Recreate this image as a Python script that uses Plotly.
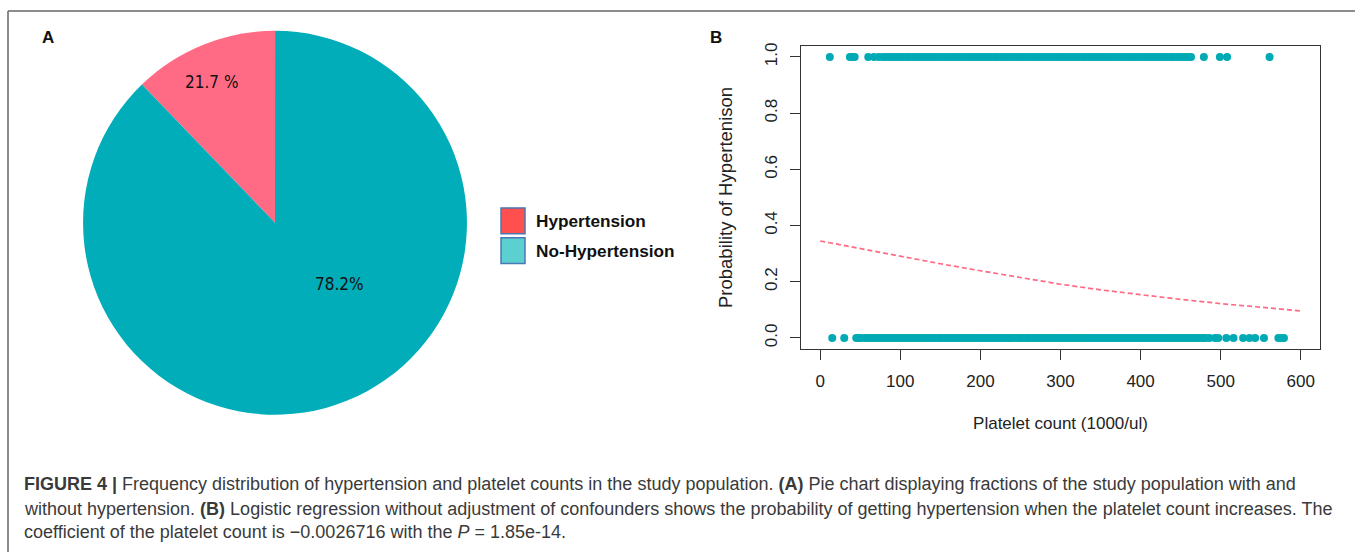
import plotly.graph_objects as go

W, H = 1355, 552

# ---------------- data ----------------
pie_labels = ["Hypertension", "No-Hypertension"]
pie_values = [12.2, 87.8]          # slice sizes as drawn
pie_text = ["21.7 %", "78.2%"]     # labels printed on the slices
pie_colors = ["#FF6B84", "#00ADB9"]
legend_colors = ["#FF4F4F", "#5CCFD0"]

hyp_x = [12, 37, 40, 43, 60, 67, 73, 78,
         82, 86, 89, 93, 97, 100, 104, 108, 111, 115, 119, 122, 126, 130, 133, 137,
         141, 144, 148, 152, 155, 159, 163, 166, 170, 174, 177, 181, 185, 188, 192,
         196, 199, 203, 207, 210, 214, 218, 221, 225, 229, 232, 236, 240, 243, 247,
         251, 254, 258, 262, 265, 269, 273, 276, 280, 284, 287, 291, 295, 298, 302,
         306, 309, 313, 317, 320, 324, 328, 331, 335, 339, 342, 346, 350, 353, 357,
         361, 364, 368, 372, 375, 379, 383, 386, 390, 394, 397, 401, 405, 408, 412,
         416, 419, 423, 427, 430, 434, 438, 441, 445, 449, 452, 456, 460, 463,
         479, 499, 508, 561]
nohyp_x = [15, 30, 45, 48, 51,
           56, 60, 63, 67, 71, 74, 78, 82, 85, 89, 93, 96, 100, 104, 107, 111, 115,
           118, 122, 126, 129, 133, 137, 140, 144, 148, 151, 155, 159, 162, 166, 170,
           173, 177, 181, 184, 188, 192, 195, 199, 203, 206, 210, 214, 217, 221, 225,
           228, 232, 236, 239, 243, 247, 250, 254, 258, 261, 265, 269, 272, 276, 280,
           283, 287, 291, 294, 298, 302, 305, 309, 313, 316, 320, 324, 327, 331, 335,
           338, 342, 346, 349, 353, 357, 360, 364, 368, 371, 375, 379, 382, 386, 390,
           393, 397, 401, 404, 408, 412, 415, 419, 423, 426, 430, 434, 437, 441, 445,
           448, 452, 456, 459, 463, 467, 470, 474, 478, 481, 486,
           493, 497, 507, 516, 528, 536, 543, 554, 572, 575, 579]

fit_x = [0, 50, 100, 150, 200, 250, 300, 350, 400, 450, 500, 550, 600]
fit_p = [0.345, 0.318, 0.290, 0.264, 0.239, 0.214, 0.191, 0.171, 0.153, 0.137, 0.122, 0.108, 0.096]

x_ticks = [0, 100, 200, 300, 400, 500, 600]
y_ticks = [0.0, 0.2, 0.4, 0.6, 0.8, 1.0]
y_tick_text = ["0.0", "0.2", "0.4", "0.6", "0.8", "1.0"]

caption_lines = [
    "<b>FIGURE 4 |</b> Frequency distribution of hypertension and platelet counts in the study population. "
    "<b>(A)</b> Pie chart displaying fractions of the study population with and",
    "without hypertension. <b>(B)</b> Logistic regression without adjustment of confounders shows the "
    "probability of getting hypertension when the platelet count increases. The",
    "coefficient of the platelet count is \u22120.0026716 with the <i>P</i> = 1.85e-14.",
]


def fx(px):
    return px / W


def fy(py):
    return 1 - py / H


teal = "#00AAB5"
AX = "#333333"
FONT = "Liberation Sans, Arial, sans-serif"

fig = go.Figure()

fig.add_trace(go.Pie(
    labels=pie_labels, values=pie_values, sort=False, direction="clockwise",
    rotation=-43.9, marker=dict(colors=pie_colors, line=dict(width=0)),
    textinfo="none", hoverinfo="label+percent", showlegend=False,
    domain=dict(x=[fx(82), fx(468)], y=[fy(414), fy(28)]),
))

fig.add_trace(go.Scatter(
    x=hyp_x, y=[1] * len(hyp_x), mode="markers",
    marker=dict(color=teal, size=8), showlegend=False, name="Hypertension",
))
fig.add_trace(go.Scatter(
    x=nohyp_x, y=[0] * len(nohyp_x), mode="markers",
    marker=dict(color=teal, size=8), showlegend=False, name="No-Hypertension",
))
fig.add_trace(go.Scatter(
    x=fit_x, y=fit_p, mode="lines", line=dict(color="#FF6B84", width=1.7, dash="5px,3px"),
    showlegend=False, name="fit",
))

annotations = []
# pie slice labels
pie_label_pos = [(211, 79), (339, 283)]
for t, (px, py) in zip(pie_text, pie_label_pos):
    annotations.append(dict(text=t, x=fx(px), y=fy(py), xref="paper", yref="paper",
                            showarrow=False, xanchor="center", yanchor="middle",
                            font=dict(family="DejaVu Sans Condensed, Liberation Sans Narrow, Noto Sans, sans-serif",
                                      size=17, color="#111111")))
# legend
shapes = []
leg_y = [(206, 232), (236, 262)]
for lab, col, (y0, y1) in zip(pie_labels, legend_colors, leg_y):
    shapes.append(dict(type="rect", xref="paper", yref="paper", x0=fx(501), x1=fx(525),
                       y0=fy(y1), y1=fy(y0), fillcolor=col, line=dict(color="#4A78B5", width=1.5)))
    annotations.append(dict(text="<b>%s</b>" % lab, x=fx(534), y=fy((y0 + y1) / 2),
                            xref="paper", yref="paper", showarrow=False, xanchor="left",
                            yanchor="middle", font=dict(family=FONT, size=17.2, color="#111111")))
# panel letters
for t, px in (("A", 48), ("B", 716)):
    annotations.append(dict(text="<b>%s</b>" % t, x=fx(px), y=fy(35), xref="paper", yref="paper",
                            showarrow=False, xanchor="center", yanchor="middle",
                            font=dict(family=FONT, size=17, color="#111111")))
# caption
for line, py in zip(caption_lines, (484, 508.5, 532)):
    annotations.append(dict(text=line, x=fx(22), y=fy(py), xref="paper", yref="paper",
                            showarrow=False, xanchor="left", yanchor="middle",
                            font=dict(family=FONT, size=18.0, color="#3a3a3a")))
# frame (top and left)
shapes.append(dict(type="line", xref="paper", yref="paper", x0=fx(8), x1=1, y0=fy(8), y1=fy(8),
                   line=dict(color="#666666", width=1.5)))
shapes.append(dict(type="line", xref="paper", yref="paper", x0=fx(8), x1=fx(8), y0=fy(8), y1=0,
                   line=dict(color="#666666", width=1.5)))

fig.update_layout(
    width=W, height=H, margin=dict(l=0, r=0, t=0, b=0),
    paper_bgcolor="white", plot_bgcolor="white",
    annotations=annotations, shapes=shapes,
    xaxis=dict(domain=[fx(801), fx(1320)], range=[-24, 624], tickvals=x_ticks,
               ticks="outside", ticklen=10, tickwidth=1.3, tickcolor=AX,
               showline=True, mirror=True, linecolor=AX, linewidth=1.3,
               showgrid=False, zeroline=False, ticklabelstandoff=6,
               tickfont=dict(family=FONT, size=17, color="#222222"),
               title=dict(text="Platelet count (1000/ul)", standoff=27,
                          font=dict(family=FONT, size=17, color="#222222"))),
    yaxis=dict(domain=[fy(348), fy(43)], range=[-0.04, 1.04], tickvals=y_ticks,
               ticktext=y_tick_text, tickangle=-90,
               ticks="outside", ticklen=10, tickwidth=1.3, tickcolor=AX,
               showline=True, mirror=True, linecolor=AX, linewidth=1.3,
               showgrid=False, zeroline=False, ticklabelstandoff=6,
               tickfont=dict(family=FONT, size=17, color="#222222"),
               title=dict(text="Probability of Hypertenison", standoff=24,
                          font=dict(family=FONT, size=18.5, color="#222222"))),
)

fig.write_html("out.html", post_script="document.body.style.margin='0px';",
               config={"displayModeBar": False})
